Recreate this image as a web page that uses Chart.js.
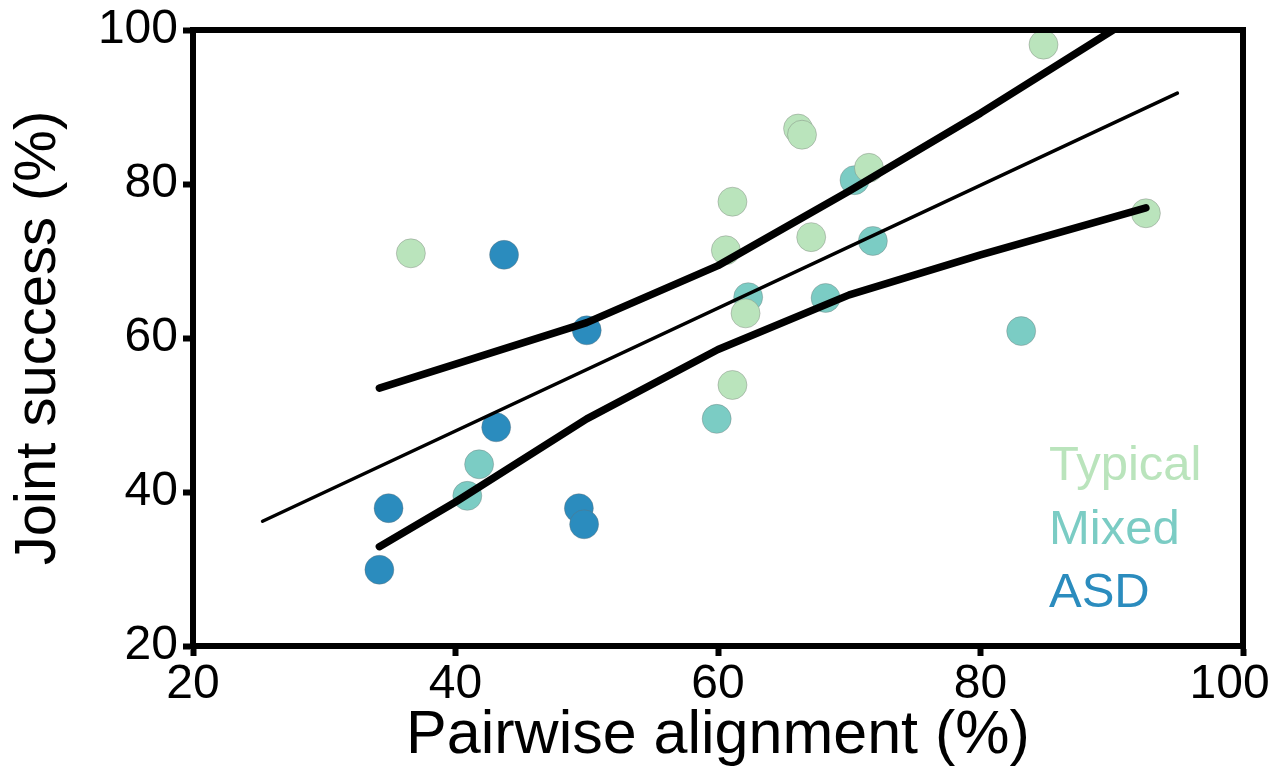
<!DOCTYPE html>
<html>
<head>
<meta charset="utf-8">
<script src="https://cdn.jsdelivr.net/npm/chart.js@4.4.0/dist/chart.umd.min.js"></script>
<style>
  html, body { margin: 0; padding: 0; background: #fff; }
</style>
</head>
<body>
<canvas id="myChart" width="1272" height="773"></canvas>
<script>
// group points (pairwise alignment %, joint success %)
const typicalX = [36.6, 60.6, 61.1, 61.1, 62.1, 66.1, 66.4, 67.1, 71.5, 84.8, 92.6];
const typicalY = [71.0, 71.4, 77.7, 53.9, 63.2, 87.2, 86.4, 73.1, 82.1, 98.1, 76.2];
const mixedX = [40.9, 41.8, 59.9, 62.3, 68.2, 70.4, 71.8, 83.1];
const mixedY = [39.5, 43.6, 49.5, 65.3, 65.2, 80.5, 72.6, 60.9];
const asdX = [34.2, 34.9, 43.7, 43.1, 50.0, 49.4, 49.8];
const asdY = [29.9, 37.9, 70.8, 48.4, 61.0, 37.9, 35.8];

// fit line and confidence band
const fitX = [25.3, 95.0];
const fitY = [36.2, 91.8];
const upperX = [34.2, 40, 50, 60, 70, 80, 90.1];
const upperY = [53.5, 56.6, 62.0, 69.4, 79.1, 89.2, 100.0];
const lowerX = [34.2, 40, 50, 60, 70, 80, 92.6];
const lowerY = [32.9, 38.7, 49.5, 58.5, 65.6, 70.8, 76.9];

const groupLabels = ['Typical', 'Mixed', 'ASD'];
const groupColors = ['#bae4bc', '#7bccc4', '#2b8cbe'];
const xTicks = [20, 40, 60, 80, 100];
const yTicks = [20, 40, 60, 80, 100];

const FONT = '"Liberation Sans", Arial, sans-serif';
const ctx = document.getElementById('myChart');

function pts(xs, ys) {
  return xs.map((x, i) => ({x: x, y: ys[i]}));
}

function groupSet(i, xs, ys) {
  return {
    label: groupLabels[i],
    data: pts(xs, ys),
    backgroundColor: groupColors[i],
    borderColor: 'rgba(110,110,110,0.35)',
    borderWidth: 1,
    pointRadius: 14.5,
    pointHoverRadius: 14.5,
    order: i + 1
  };
}

function lineSet(xs, ys, w) {
  return {
    data: pts(xs, ys),
    showLine: true,
    borderColor: '#000',
    borderWidth: w,
    borderCapStyle: 'round',
    borderJoinStyle: 'round',
    pointRadius: 0,
    fill: false,
    order: 0
  };
}

// box round the plot + text legend
const framePlugin = {
  id: 'frame',
  afterDatasetsDraw(chart) {
    const a = chart.chartArea;
    const c = chart.ctx;
    c.save();
    c.strokeStyle = '#000';
    c.lineWidth = 6;
    c.strokeRect(a.left, a.top, a.right - a.left, a.bottom - a.top);
    c.font = '49px ' + FONT;
    c.textAlign = 'left';
    c.textBaseline = 'alphabetic';
    groupLabels.forEach(function(lab, i) {
      c.fillStyle = groupColors[i];
      c.fillText(lab, 1049, 480 + i * 63.5);
    });
    c.restore();
  }
};

function noPad(scale) {
  scale.paddingLeft = 0;
  scale.paddingRight = 0;
  scale.paddingTop = 0;
  scale.paddingBottom = 0;
}

new Chart(ctx, {
  type: 'scatter',
  data: {
    datasets: [
      lineSet(upperX, upperY, 7.5),
      lineSet(lowerX, lowerY, 7.5),
      lineSet(fitX, fitY, 3.5),
      groupSet(0, typicalX, typicalY),
      groupSet(1, mixedX, mixedY),
      groupSet(2, asdX, asdY)
    ]
  },
  options: {
    responsive: false,
    animation: false,
    layout: { padding: { top: 30, right: 29, left: 0, bottom: 0 } },
    plugins: { legend: { display: false }, tooltip: { enabled: false } },
    scales: {
      x: {
        type: 'linear',
        min: 20,
        max: 100,
        afterBuildTicks: function(s) { s.ticks = xTicks.map(v => ({value: v})); },
        afterFit: function(s) { s.height = 127; noPad(s); },
        ticks: {
          color: '#000', font: { size: 48, family: FONT }, padding: 0, maxRotation: 0,
          // last label sits inside the page edge, as in the original
          callback: function(v) { return v === 100 ? '100  ' : String(v); }
        },
        grid: { drawOnChartArea: false, drawTicks: true, tickLength: 10, tickWidth: 6, tickColor: '#000', color: '#000' },
        border: { display: true, color: '#000', width: 6 },
        title: { display: true, text: 'Pairwise alignment (%)', color: '#000', font: { size: 61, family: FONT }, padding: 0 }
      },
      y: {
        type: 'linear',
        min: 20,
        max: 100,
        afterBuildTicks: function(s) { s.ticks = yTicks.map(v => ({value: v})); },
        afterFit: function(s) { s.width = 193; noPad(s); },
        ticks: { color: '#000', font: { size: 48, family: FONT }, padding: 5 },
        grid: { drawOnChartArea: false, drawTicks: true, tickLength: 10, tickWidth: 6, tickColor: '#000', color: '#000' },
        border: { display: true, color: '#000', width: 6 },
        title: { display: true, text: 'Joint success (%)', color: '#000', font: { size: 58, family: FONT }, padding: 4 }
      }
    }
  },
  plugins: [framePlugin]
});
</script>
</body>
</html>
